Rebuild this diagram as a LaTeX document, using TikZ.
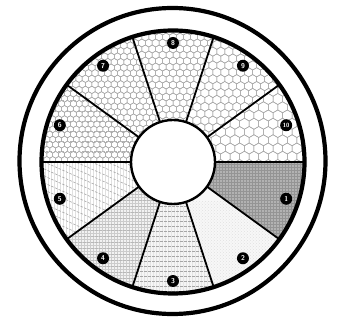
\documentclass[tikz,border=0pt]{standalone}
\usetikzlibrary{patterns}

% one honeycomb: hex radius, origin x, origin y, columns, rows
\newcommand{\honeycomb}[5]{%
  \foreach \j in {0,...,#5}
    \foreach \i in {0,...,#4}
      \draw[hexline] ({#2+(\i+0.5*mod(\j,2))*1.732*#1},{#3+1.5*#1*\j})
        +(30:#1) -- +(90:#1) -- +(150:#1) -- +(210:#1) -- +(270:#1) -- +(330:#1) -- cycle;}

\begin{document}
\begin{tikzpicture}[x=1pt,y=1pt,
  ring/.style={line width=4.2pt},
  spoke/.style={line width=1.8pt},
  hexline/.style={black!35,line width=0.5pt},
  dashline/.style={black!40,line width=0.6pt,dash pattern=on 2.5pt off 1.5pt},
  badge/.style={circle,fill=black,text=white,inner sep=0pt,minimum size=12pt,
    font=\sffamily\bfseries\fontsize{7}{7}\selectfont}]
\useasboundingbox (-173,-158) rectangle (166,162);

% sector 1
\begin{scope}
\clip (0,0) -- (-36:131.5) arc[start angle=-36,end angle=0,radius=131.5pt] -- cycle;
\fill[black!30] (-5,-90) rectangle (135,5);
\fill[pattern=grid,pattern color=black!42] (-5,-90) rectangle (135,5);
\end{scope}
% sector 2
\begin{scope}
\clip (0,0) -- (-72:131.5) arc[start angle=-72,end angle=-36,radius=131.5pt] -- cycle;
\fill[black!3] (-5,-135) rectangle (110,5);
\fill[pattern=crosshatch dots,pattern color=black!12] (-5,-135) rectangle (110,-40);
\end{scope}
% sector 3
\begin{scope}
\clip (0,0) -- (-108:131.5) arc[start angle=-108,end angle=-72,radius=131.5pt] -- cycle;
\fill[black!4] (-45,-135) rectangle (45,5);
\fill[pattern=vertical lines,pattern color=black!10] (-45,-135) rectangle (45,5);
\foreach \y in {-134,-129,...,-30}
  \draw[dashline,black!35] (-45,\y) -- (45,\y);
\end{scope}
% sector 4
\begin{scope}
\clip (0,0) -- (-144:131.5) arc[start angle=-144,end angle=-108,radius=131.5pt] -- cycle;
\fill[black!5] (-110,-135) rectangle (5,5);
\fill[pattern=grid,pattern color=black!20] (-110,-135) rectangle (5,5);
\foreach \y in {-134,-128,...,-20}
  \draw[dashline,black!28] (-110,\y) -- (5,\y);
\end{scope}
% sector 5
\begin{scope}
\clip (0,0) -- (-180:131.5) arc[start angle=-180,end angle=-144,radius=131.5pt] -- cycle;
\fill[pattern=vertical lines,pattern color=black!12] (-135,-85) rectangle (5,5);
\foreach \y in {-100,-93,...,60}
  \draw[dashline,black!35] (-140,\y) -- ++(-24:160);
\end{scope}
% sector 6
\begin{scope}
\clip (0,0) -- (180:131.5) arc[start angle=180,end angle=144,radius=131.5pt] -- cycle;
\honeycomb{3.4}{-135}{-3}{23}{16}
\foreach \y in {0,10.2,...,80}
  \draw[dashline,black!30] (-135,\y) -- (0,\y);
\end{scope}
% sector 7
\begin{scope}
\clip (0,0) -- (144:131.5) arc[start angle=144,end angle=108,radius=131.5pt] -- cycle;
\honeycomb{3.7}{-110}{0}{18}{25}
\end{scope}
% sector 8
\begin{scope}
\clip (0,0) -- (108:131.5) arc[start angle=108,end angle=72,radius=131.5pt] -- cycle;
\honeycomb{4}{-45}{35}{14}{17}
\end{scope}
% sector 9
\begin{scope}
\clip (0,0) -- (72:131.5) arc[start angle=72,end angle=36,radius=131.5pt] -- cycle;
\honeycomb{4.6}{0}{0}{14}{20}
\end{scope}
% sector 10
\begin{scope}
\clip (0,0) -- (36:131.5) arc[start angle=36,end angle=0,radius=131.5pt] -- cycle;
\honeycomb{5.5}{0}{-3}{15}{10}
\end{scope}

\foreach \a in {0,36,...,324}
  \draw[spoke] (\a:42) -- (\a:131.5);
\draw[ring] (0,0) circle[radius=131.5pt];
\draw[ring] (-0.5,1) circle[radius=153pt];
\draw[fill=white,line width=2.4pt] (0,0) circle[radius=42pt];

\foreach \k in {1,...,9}
  \node[badge] (n\k) at ({18-36*\k}:119) {\k};
\node[badge,font=\sffamily\bfseries\fontsize{6}{6}\selectfont] (n10) at (18:119) {10};
\end{tikzpicture}
\end{document}
